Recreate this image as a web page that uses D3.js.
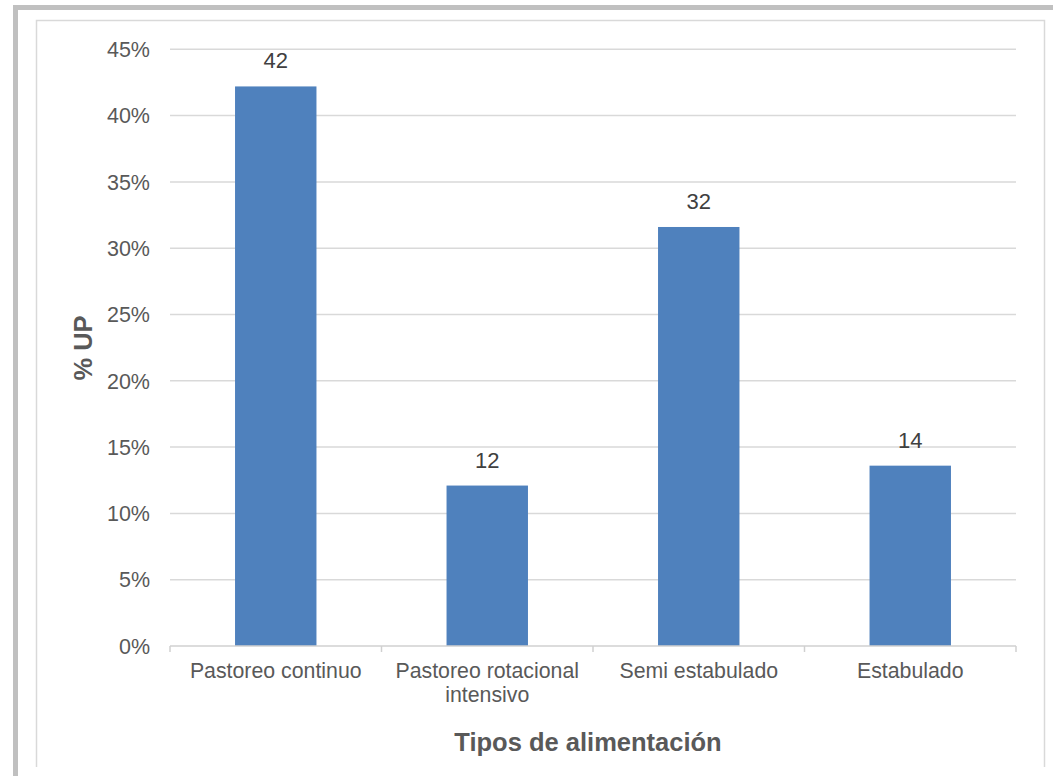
<!DOCTYPE html>
<html>
<head>
<meta charset="utf-8">
<script src="https://cdn.jsdelivr.net/npm/d3@7"></script>
<style>
html,body{margin:0;padding:0;background:#fff;}
svg{display:block;}
</style>
</head>
<body>
<script>
const categories = [["Pastoreo continuo"], ["Pastoreo rotacional", "intensivo"], ["Semi estabulado"], ["Estabulado"]];
const values = [42.2, 12.1, 31.6, 13.6];
const yTicks = [0, 5, 10, 15, 20, 25, 30, 35, 40, 45];
const yTitle = "% UP";
const xTitle = "Tipos de alimentación";

const W = 1053, H = 776;
const svg = d3.select("body").append("svg").attr("width", W).attr("height", H);
const font = "'Liberation Sans', Arial, sans-serif";

// outer frame (grey) and inner chart border
svg.append("rect").attr("x", 13).attr("y", 5).attr("width", W).attr("height", H).attr("fill", "#c0c0c0");
svg.append("rect").attr("x", 18).attr("y", 10).attr("width", W).attr("height", H).attr("fill", "#fff");
svg.append("path").attr("d", "M36.5,767 V20.5 H1044.5 V767")
  .attr("fill", "none").attr("stroke", "#d9d9d9").attr("stroke-width", 1.5);

const x0 = 170, x1 = 1016, yBase = 646, yTop = 49.3;
const x = d3.scaleBand().domain(d3.range(categories.length)).range([x0, x1])
  .paddingInner(0.615).paddingOuter(0.3075);
const y = d3.scaleLinear().domain([0, 45]).range([yBase, yTop]);

// gridlines
svg.append("g").selectAll("line").data(yTicks.filter(t => t > 0)).join("line")
  .attr("x1", x0).attr("x2", x1)
  .attr("y1", d => y(d)).attr("y2", d => y(d))
  .attr("stroke", "#d9d9d9").attr("stroke-width", 1.5);

// y tick labels
svg.append("g").selectAll("text").data(yTicks).join("text")
  .attr("x", 150).attr("y", d => y(d)).attr("dy", "0.36em")
  .attr("text-anchor", "end").attr("font-family", font).attr("font-size", 21.5)
  .attr("fill", "#595959").text(d => d + "%");

// bars
svg.append("g").selectAll("rect").data(values).join("rect")
  .attr("x", (d, i) => x(i)).attr("width", x.bandwidth())
  .attr("y", d => y(d)).attr("height", d => y(0) - y(d))
  .attr("fill", "#4f81bd");

// data labels
svg.append("g").selectAll("text").data(values).join("text")
  .attr("x", (d, i) => x(i) + x.bandwidth() / 2).attr("y", d => y(d) - 18)
  .attr("text-anchor", "middle").attr("font-family", font).attr("font-size", 22)
  .attr("fill", "#404040").text(d => Math.round(d));

// x axis line and tick marks
svg.append("line").attr("x1", x0).attr("x2", x1).attr("y1", yBase).attr("y2", yBase)
  .attr("stroke", "#d0d0d0").attr("stroke-width", 1.5);
const boundaries = d3.range(categories.length + 1).map(i => x0 + i * (x1 - x0) / categories.length);
svg.append("g").selectAll("line").data(boundaries).join("line")
  .attr("x1", d => d).attr("x2", d => d).attr("y1", yBase).attr("y2", yBase + 6)
  .attr("stroke", "#d0d0d0").attr("stroke-width", 1.5);

// category labels
const cl = svg.append("g").selectAll("text").data(categories).join("text")
  .attr("x", (d, i) => x(i) + x.bandwidth() / 2).attr("y", 678)
  .attr("text-anchor", "middle").attr("font-family", font).attr("font-size", 21.3)
  .attr("fill", "#595959");
cl.selectAll("tspan").data(d => d).join("tspan")
  .attr("x", function() { return d3.select(this.parentNode).attr("x"); })
  .attr("dy", (d, i) => i === 0 ? 0 : 24).text(d => d);

// axis titles
svg.append("text").attr("x", (x0 + x1) / 2 - 5).attr("y", 751)
  .attr("text-anchor", "middle").attr("font-family", font).attr("font-size", 25.5)
  .attr("font-weight", "bold").attr("fill", "#595959").text(xTitle);
svg.append("text").attr("transform", "translate(92,348) rotate(-90)")
  .attr("text-anchor", "middle").attr("font-family", font).attr("font-size", 25.5)
  .attr("font-weight", "bold").attr("fill", "#595959").text(yTitle);
</script>
</body>
</html>
